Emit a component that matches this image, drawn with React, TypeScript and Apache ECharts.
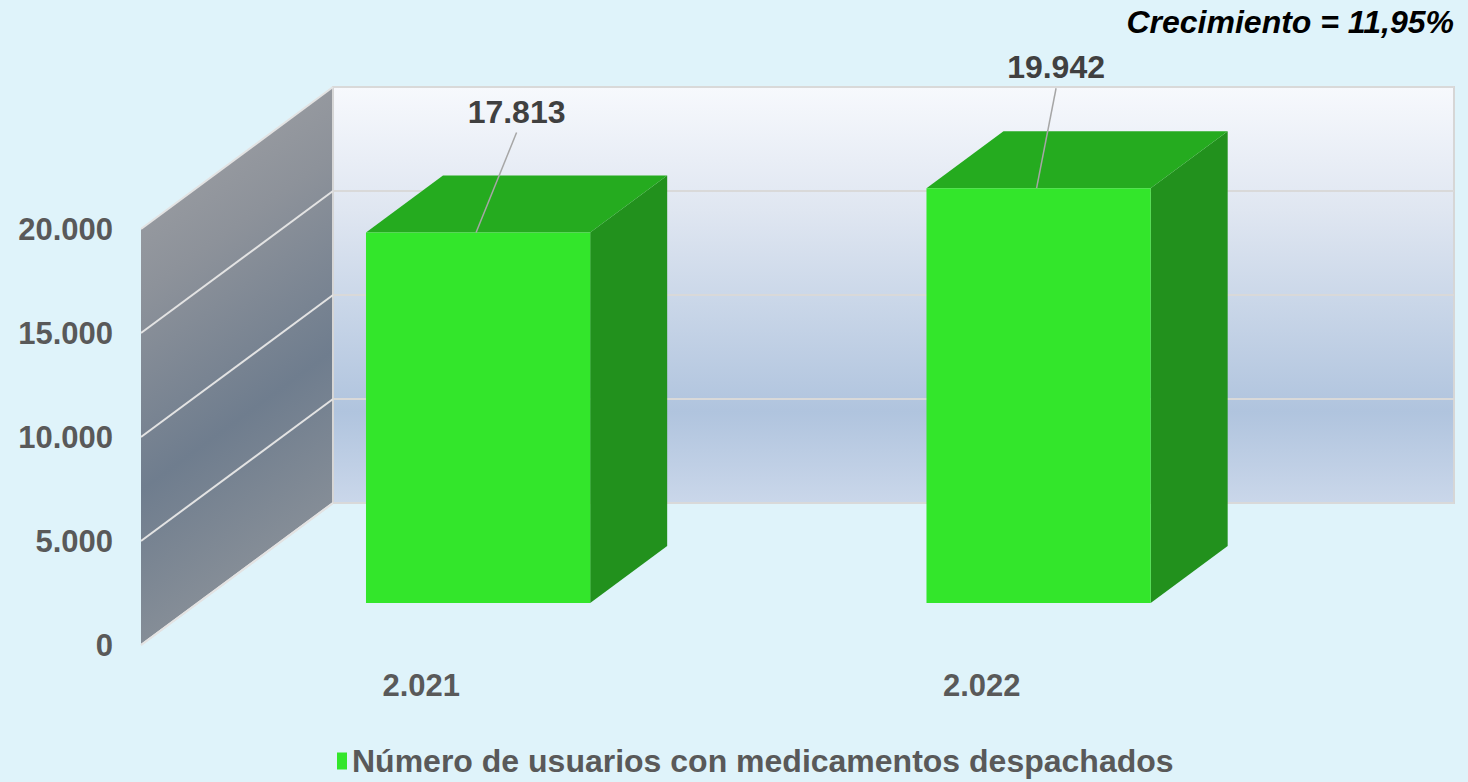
import React, { useEffect, useRef } from "react";
import * as echarts from "echarts";

const categories = ["2.021", "2.022"];
const usuarios = [17813, 19942];
const seriesName = "Número de usuarios con medicamentos despachados";
const yTicks = [0, 5000, 10000, 15000, 20000];
const labelShift = [0, -21];

const FONT = "'Liberation Sans', Arial, sans-serif";
const DEPTH_X = 192;
const DEPTH_Y = -142;
const F_FRONT = 0.296;
const F_BACK = 0.697;
const BAR_RATIO = 0.4;

const fmt = (n: number) => String(Math.round(n)).replace(/\B(?=(\d{3})+(?!\d))/g, ".");
const growth = ((usuarios[1] / usuarios[0] - 1) * 100).toFixed(2).replace(".", ",");

export default function App() {
  const ref = useRef<HTMLDivElement>(null);
  useEffect(() => {
    if (!ref.current) return;
    const chart = echarts.init(ref.current, null, { renderer: "svg" });
    const yMax = yTicks[yTicks.length - 1];
    const option: any = {
      animation: false,
      backgroundColor: "#DFF3FA",
      title: {
        text: `Crecimiento = ${growth}%`,
        right: 9,
        top: 1,
        textStyle: { fontFamily: FONT, fontSize: 32, fontWeight: "bold", fontStyle: "italic", color: "#000" },
      },
      legend: {
        data: [seriesName],
        left: 337,
        top: 745,
        padding: 0,
        icon: "rect",
        itemWidth: 10,
        itemHeight: 17,
        itemGap: 5,
        textStyle: { fontFamily: FONT, fontSize: 32, lineHeight: 32, fontWeight: "bold", color: "#595959" },
      },
      grid: { left: 141, top: 229, width: 1121, height: 416 },
      xAxis: {
        type: "category",
        data: categories,
        axisLine: { show: false },
        axisTick: { show: false },
        axisLabel: { margin: 25, fontFamily: FONT, fontSize: 31, fontWeight: "bold", color: "#595959" },
      },
      yAxis: {
        type: "value",
        min: 0,
        max: yMax,
        interval: 5000,
        splitLine: { show: false },
        axisLine: { show: false },
        axisTick: { show: false },
        axisLabel: { margin: 28, fontFamily: FONT, fontSize: 31, fontWeight: "bold", color: "#595959", formatter: (v: number) => fmt(v) },
      },
      series: [
        {
          type: "custom",
          name: "walls",
          z: 1,
          silent: true,
          data: yTicks.map((t, k) => [k, t]),
          renderItem: (params: any, api: any) => {
            const cs = params.coordSys;
            const v = api.value(1);
            const left = cs.x;
            const right = cs.x + cs.width;
            const p = api.coord([0, v]);
            const y = p[1];
            const children: any[] = [];
            if (params.dataIndex === 0) {
              const yb = api.coord([0, 0])[1];
              const yt = api.coord([0, yMax])[1];
              children.push({
                type: "polygon",
                shape: { points: [[left, yt], [left + DEPTH_X, yt + DEPTH_Y], [left + DEPTH_X, yb + DEPTH_Y], [left, yb]] },
                style: {
                  fill: new echarts.graphic.LinearGradient(0, 0, 0.25, 1, [
                    { offset: 0, color: "#A4A5A8" },
                    { offset: 0.35, color: "#8D929A" },
                    { offset: 0.68, color: "#6F7D8E" },
                    { offset: 1, color: "#8A9199" },
                  ]),
                },
              });
              children.push({
                type: "rect",
                shape: { x: left + DEPTH_X, y: yt + DEPTH_Y, width: right - left, height: yb - yt },
                style: {
                  fill: new echarts.graphic.LinearGradient(0, 0, 0, 1, [
                    { offset: 0, color: "#F7F9FD" },
                    { offset: 0.3, color: "#DFE6F1" },
                    { offset: 0.78, color: "#B0C4DE" },
                    { offset: 1, color: "#CAD7EA" },
                  ]),
                  stroke: "#D6D6D6",
                  lineWidth: 2,
                },
              });
              children.push({
                type: "line",
                shape: { x1: left, y1: yb, x2: left + DEPTH_X, y2: yb + DEPTH_Y },
                style: { stroke: "#E3E3E3", lineWidth: 2 },
              });
            }
            children.push({
              type: "line",
              shape: { x1: left, y1: y, x2: left + DEPTH_X, y2: y + DEPTH_Y },
              style: { stroke: "#E3E3E3", lineWidth: 2 },
            });
            children.push({
              type: "line",
              shape: { x1: left + DEPTH_X, y1: y + DEPTH_Y, x2: right + DEPTH_X, y2: y + DEPTH_Y },
              style: { stroke: "#D9D9D9", lineWidth: 2 },
            });
            return { type: "group", children };
          },
        },
        {
          type: "custom",
          name: seriesName,
          z: 2,
          itemStyle: { color: "#33E62B" },
          data: usuarios.map((v, i) => [i, v]),
          renderItem: (params: any, api: any) => {
            const i = api.value(0);
            const v = api.value(1);
            const top = api.coord([i, v]);
            const base = api.coord([i, 0]);
            const bw = api.size([1, 0])[0] * BAR_RATIO;
            const ox = DEPTH_X * F_FRONT;
            const oy = DEPTH_Y * F_FRONT;
            const dx = DEPTH_X * (F_BACK - F_FRONT);
            const dy = DEPTH_Y * (F_BACK - F_FRONT);
            const x0 = top[0] - bw / 2 + ox;
            const x1 = x0 + bw;
            const yt = top[1] + oy;
            const yb = base[1] + oy;
            const lx = (x0 + x1 + dx) / 2 + labelShift[i];
            const ly = yt + dy - 64;
            const sx = (x0 + x1) / 2 - 2;
            return {
              type: "group",
              children: [
                {
                  type: "polygon",
                  shape: { points: [[x1, yt], [x1 + dx, yt + dy], [x1 + dx, yb + dy], [x1, yb]] },
                  style: { fill: "#22911D" },
                },
                {
                  type: "polygon",
                  shape: { points: [[x0, yt], [x1, yt], [x1 + dx, yt + dy], [x0 + dx, yt + dy]] },
                  style: { fill: "#25AB1F" },
                },
                {
                  type: "rect",
                  shape: { x: x0, y: yt, width: bw, height: yb - yt },
                  style: { fill: "#33E62B" },
                },
                {
                  type: "line",
                  shape: { x1: sx, y1: yt, x2: lx, y2: ly + 21 },
                  style: { stroke: "#A6A6A6", lineWidth: 1.5 },
                },
                {
                  type: "text",
                  x: lx,
                  y: ly,
                  style: {
                    text: fmt(v),
                    align: "center",
                    verticalAlign: "middle",
                    fontFamily: FONT,
                    fontSize: 32,
                    fontWeight: "bold",
                    fill: "#404040",
                  },
                },
              ],
            };
          },
        },
      ],
    };
    chart.setOption(option);
    return () => chart.dispose();
  }, []);
  return <div ref={ref} style={{ position: "fixed", left: 0, top: 0, width: 1468, height: 782 }} />;
}
